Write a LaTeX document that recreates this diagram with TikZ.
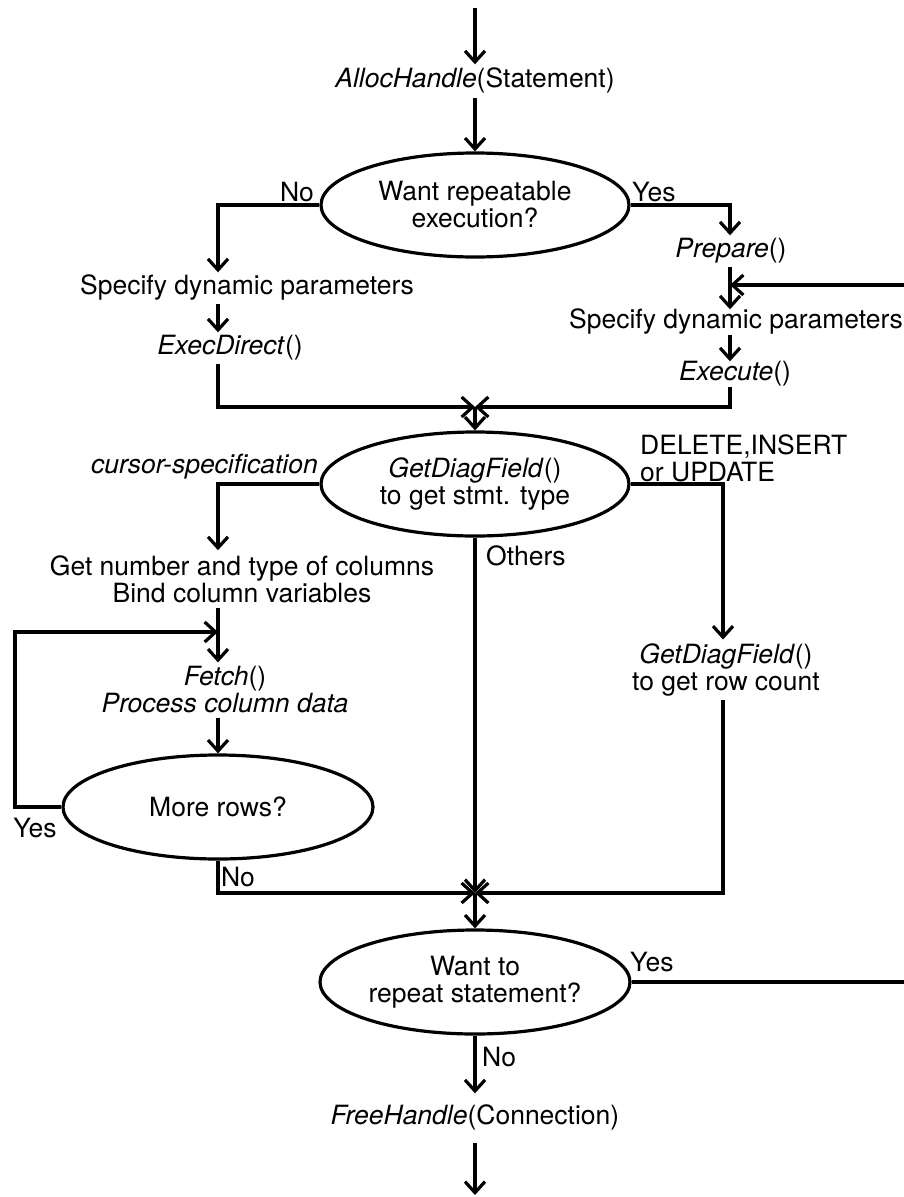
\documentclass[tikz,border=0pt]{standalone}
\usepackage{fontspec}
\setmainfont{TeX Gyre Heros}
\usetikzlibrary{arrows.meta,shapes.geometric}
\newcommand\fs{\fontsize{26.5}{27}\selectfont}
\tikzset{
  arr/.style={-{Straight Barb[length=11pt,width=20pt]}},
  flow/.style={line width=3.2pt, black},
  txt/.style={font=\fs, inner xsep=0pt, inner ysep=2pt, text height=19pt, text depth=6pt},
  txtm/.style={font=\fs, align=center, inner xsep=0pt, inner ysep=4pt},
  lbl/.style={font=\fs, inner sep=0pt},
  decide/.style={ellipse, draw, line width=3.2pt, font=\fs, align=center,
    minimum width=308pt, minimum height=104pt, inner xsep=-6pt, inner ysep=0pt},
}
\begin{document}
\begin{tikzpicture}[x=1pt, y=-1pt]
\useasboundingbox (0,0) rectangle (904,1197);

% column positions
\coordinate (L) at (218,0);
\coordinate (R) at (730,0);
\coordinate (RR) at (723,0);
\coordinate (edge) at (904,0);
\coordinate (start) at (475,8);
\coordinate (finish) at (475,1195);
\coordinate (j1) at (475,407);
\coordinate (j2) at (475,893);
\coordinate (rin) at (904,285);
\coordinate (lp) at (15,632);

% statements
\node[txt, inner ysep=4pt] (alloc) at (475,81) {\textit{AllocHandle}(Statement)};
\node[decide] (ell1) at (475,205) {Want repeatable\\execution?};
\node[txt, inner ysep=3pt] (spec1) at (247,288) {Specify dynamic parameters};
\node[txt, inner ysep=3pt] (execd) at (230,348) {\textit{ExecDirect}()};
\node[txt, inner ysep=3pt] (prep) at (731,251) {\textit{Prepare}()};
\node[txt, inner ysep=0pt] (spec2) at (736,322) {Specify dynamic parameters};
\node[txt, inner ysep=0pt] (exec) at (735,374) {\textit{Execute}()};
\node[decide] (ell2) at (475,484) {\textit{GetDiagField}()\\to get stmt. type};
\node[txtm, inner ysep=5pt] (getnum) at (242,579) {Get number and type of columns\\Bind column variables};
\node[txtm] (fetch) at (225,690) {\textit{Fetch}()\\\textit{Process column data}};
\node[decide, minimum width=310pt] (more) at (218,807) {More rows?};
\node[txtm] (rgd) at (726,670) {\textit{GetDiagField}()\\to get row count};
\node[decide, minimum width=310pt] (ell3) at (475,982) {Want to\\repeat statement?};
\node[txt, inner ysep=12pt] (free) at (475,1118) {\textit{FreeHandle}(Connection)};

% branch labels
\node[lbl] (no1) at (297,192) {No};
\node[lbl, anchor=west] (yes1) at (632,192) {Yes};
\node[lbl, anchor=east] (cur) at (318,467) {\textit{cursor-specification}};
\node[lbl, anchor=west, align=left] (dml) at (640,458) {DELETE,INSERT\\or UPDATE};
\node[lbl, anchor=west] (oth) at (486,556) {Others};
\node[lbl] (yes2) at (35,828) {Yes};
\node[lbl] (no2) at (238,877) {No};
\node[lbl, anchor=west] (yes3) at (630,962) {Yes};
\node[lbl, anchor=west] (no3) at (482,1057) {No};

% connectors
\begin{scope}[flow]
\draw[arr] (start) -- (alloc.north);
\draw[arr] (alloc.south) -- (ell1.north);
\draw[arr] (ell1.west) -| (spec1.north -| L);
\draw[arr] (spec1.south -| L) -- (execd.north -| L);
\draw[arr] (execd.south -| L) |- (j1);
\draw[arr] (ell1.east) -| (prep.north -| R);
\draw[arr] (prep.south -| R) -- (spec2.north -| R);
\draw[arr] (rin) -- (rin -| R);
\draw[arr] (spec2.south -| R) -- (exec.north -| R);
\draw[arr] (exec.south -| R) |- (j1);
\draw[arr] (j1) -- (ell2.north);
\draw[arr] (ell2.west) -| (getnum.north -| L);
\draw[arr] (getnum.south -| L) -- (fetch.north -| L);
\draw[arr] (fetch.south -| L) -- (more.north);
\draw[arr] (more.west) -| (lp) -- (lp -| L);
\draw[arr] (more.south) |- (j2);
\draw[arr] (ell2.south) -- (j2);
\draw[arr] (ell2.east) -| (rgd.north -| RR);
\draw[arr] (rgd.south -| RR) |- (j2);
\draw[arr] (j2) -- (ell3.north);
\draw (ell3.east) -- (ell3.east -| edge);
\draw[arr] (ell3.south) -- (free.north);
\draw[arr] (free.south) -- (finish);
\end{scope}
\end{tikzpicture}
\end{document}
